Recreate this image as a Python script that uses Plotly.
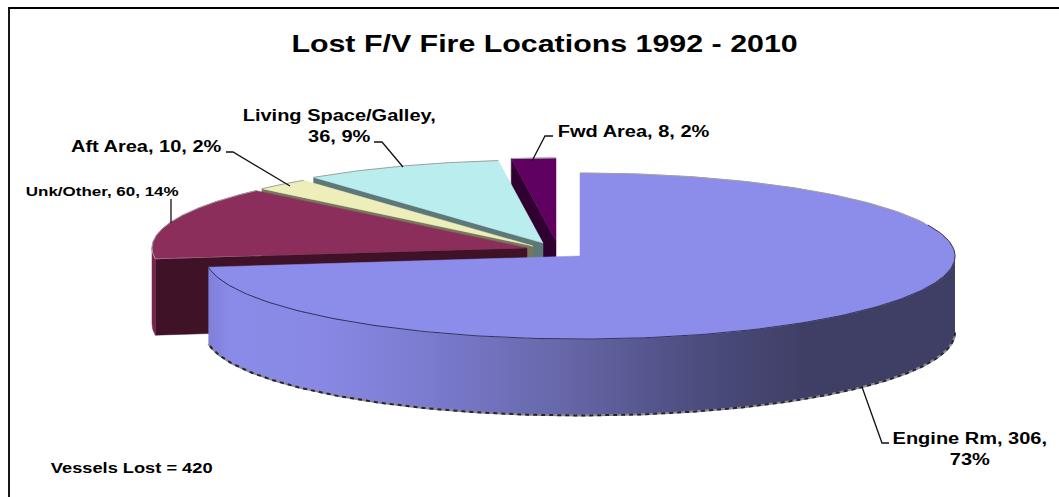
import numpy as np
import plotly.graph_objects as go

categories = ["Engine Rm", "Unk/Other", "Aft Area", "Living Space/Galley", "Fwd Area"]
values = [306, 60, 10, 36, 8]
percents = [73, 14, 2, 9, 2]
vessels_lost = 420
title_text = "Lost F/V Fire Locations 1992 - 2010"

W, H = 1059, 497
RX, RY, DEPTH = 375.0, 83.0, 76.0
# where each slice's apex sits once the pie is "exploded"
APEX = {"Engine Rm": (580, 256), "Unk/Other": (527, 248), "Aft Area": (533, 246),
        "Living Space/Galley": (543, 243), "Fwd Area": (556, 241)}
TOP = {"Engine Rm": "#8C8CEB", "Unk/Other": "#8B2E5C", "Aft Area": "#EEEEBB",
       "Living Space/Galley": "#BAEEEE", "Fwd Area": "#600060"}
WALL = {"Unk/Other": "#3F1228", "Aft Area": "#77775C",
        "Living Space/Galley": "#5C7878", "Fwd Area": "#300030"}

total = sum(values)
edges = np.concatenate([[0], np.cumsum(values)]) / total * 2 * np.pi
span = {c: (edges[i], edges[i + 1]) for i, c in enumerate(categories)}


def arc(cat, a0, a1, drop=0.0, n=240):
    t = np.linspace(a0, a1, n)
    cx, cy = APEX[cat]
    return cx + RX * np.sin(t), cy - RY * np.cos(t) + drop


def pt(cat, a, drop=0.0):
    cx, cy = APEX[cat]
    return cx + RX * np.sin(a), cy - RY * np.cos(a) + drop


fig = go.Figure()


def poly(xs, ys, color, **kw):
    fig.add_trace(go.Scatter(x=list(xs), y=list(ys), mode="lines", fill="toself", fillcolor=color,
                             line=dict(color=color, width=0.5), hoverinfo="skip", showlegend=False, **kw))


def line(xs, ys, color, width=1.0, dash="solid"):
    fig.add_trace(go.Scatter(x=list(xs), y=list(ys), mode="lines",
                             line=dict(color=color, width=width, dash=dash),
                             hoverinfo="skip", showlegend=False))


def wedge(cat):
    a0, a1 = span[cat]
    cx, cy = APEX[cat]
    ax, ay = arc(cat, a0, a1)
    return np.r_[cx, ax, cx], np.r_[cy, ay, cy]


def lower_wall(cat):
    a0 = span[cat][0]
    cx, cy = APEX[cat]
    px, py = pt(cat, a0)
    poly([cx, px, px, cx, cx], [cy, py, py + DEPTH, cy + DEPTH, cy], WALL[cat])


# back-to-front painting
for cat in ["Fwd Area", "Living Space/Galley", "Aft Area", "Unk/Other"]:
    lower_wall(cat)
    if cat == "Unk/Other":
        a0 = span[cat][0]
        a1 = 1.5 * np.pi
        xt, yt = arc(cat, a0, a1, n=20)
        xb, yb = arc(cat, a1, a0, DEPTH, n=20)
        poly(np.r_[xt, xb, xt[0]], np.r_[yt, yb, yt[0]], "#74264D")
    x, y = wedge(cat)
    poly(x, y, TOP[cat])
    ax, ay = arc(cat, *span[cat])
    line(ax, ay, "#A0A0A0", 1)

# engine room slice: rim with gradient, then the top face
cat = "Engine Rm"
a0, a1 = np.pi / 2, span[cat][1]
xt, yt = arc(cat, a0, a1)
xb, yb = arc(cat, a1, a0, DEPTH)
rim_stops = [[0.0, "#8080DA"], [0.03, "#8A8AE8"], [0.16, "#8888E4"], [0.3, "#7A7ACE"],
             [0.48, "#6666A8"], [0.66, "#4C4C7E"], [0.8, "#3F3F66"], [1.0, "#3F3F66"]]
fig.add_trace(go.Scatter(x=list(np.r_[xt, xb, xt[0]]), y=list(np.r_[yt, yb, yt[0]]), mode="lines",
                         fill="toself", line=dict(width=0, color="#3F3F66"),
                         fillgradient=dict(type="horizontal", colorscale=rim_stops),
                         hoverinfo="skip", showlegend=False))
x, y = wedge(cat)
poly(x, y, TOP[cat])
ax, ay = arc(cat, *span[cat])
line(ax[:62], ay[:62], "#A0A0A0", 1)
line(ax[62:], ay[62:], "#34345C", 1)
bx, by = arc(cat, a0, a1, DEPTH + 0.5)
line(bx, by, "#8A8A8A", 2)
line(bx, by, "#23233F", 2, "4px,4px")

# labels
labels = [f"{c}, {v}, {p}%" for c, v, p in zip(categories, values, percents)]
FONT = "Liberation Sans"


def note(text, x, y, size):
    fig.add_annotation(x=x, y=y, text=text, showarrow=False, xanchor="center", yanchor="middle",
                       font=dict(family=FONT, size=size, color="#000000"), align="center")


note(f"<b>{title_text}</b>", 544, 43, 24.3)
note(f"<b>{labels[0].replace('306, ', '306,<br>')}</b>", 970, 449, 16)
note(f"<b>{labels[1]}</b>", 102, 191, 13.6)
note(f"<b>{labels[2]}</b>", 146, 146, 16)
note(f"<b>{labels[3].replace('Galley, ', 'Galley,<br>')}</b>", 339, 126, 16)
note(f"<b>{labels[4]}</b>", 633, 131, 16)
note(f"<b>Vessels Lost = {vessels_lost}</b>", 131, 468, 14.6)

# leader lines and the frame
shapes = []
for p in ["M 889 443 L 882 443 L 862 387", "M 171 199 L 171 223", "M 226 152 L 233 152 L 290 186",
          "M 374 142 L 382 142 L 403 167", "M 553 136 L 545 136 L 532 161"]:
    shapes.append(dict(type="path", path=p, line=dict(color="#111111", width=1.3), layer="above"))
shapes.append(dict(type="path", path=f"M 9 {H} L 9 8 L {W} 8", line=dict(color="#000000", width=1.8), layer="above"))

fig.update_layout(width=W, height=H, margin=dict(l=0, r=0, t=0, b=0), paper_bgcolor="white",
                  plot_bgcolor="white", showlegend=False, shapes=shapes,
                  xaxis=dict(range=[0, W], visible=False, fixedrange=True),
                  yaxis=dict(range=[H, 0], visible=False, fixedrange=True))

# the reference's text is stretched sideways, as in a resized picture
stretch = """
document.body.style.margin='0';
document.querySelectorAll('text.annotation-text').forEach(function (t) {
  var b = t.getBBox(), c = b.x + b.width / 2, old = t.getAttribute('transform') || '';
  t.setAttribute('transform', old + ' translate(' + c + ',0) scale(1.25,1) translate(' + (-c) + ',0)');
});
"""
fig.write_html("out.html", config=dict(displayModeBar=False), post_script=stretch)
